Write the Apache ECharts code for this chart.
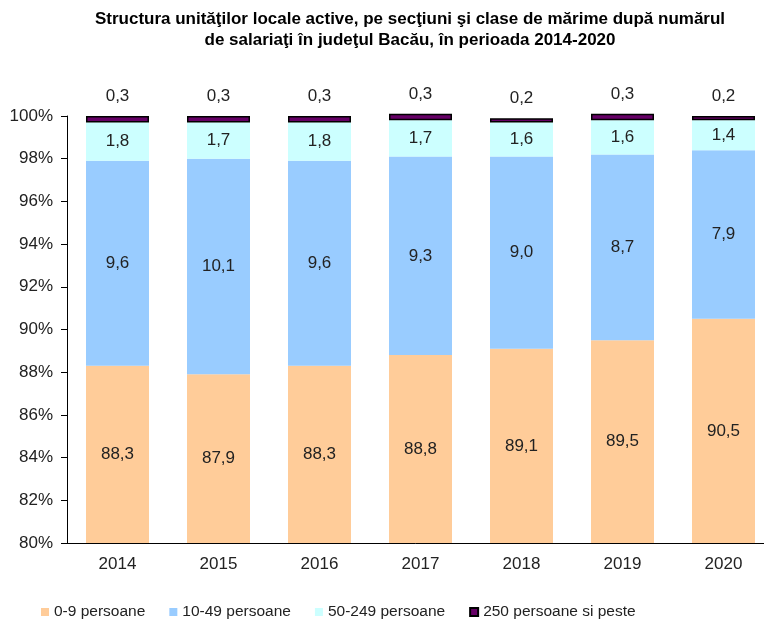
<!DOCTYPE html>
<html>
<head>
<meta charset="utf-8">
<script src="https://cdn.jsdelivr.net/npm/echarts@6/dist/echarts.min.js"></script>
<style>
  html, body { margin: 0; padding: 0; background: #fff; }
  #chart { width: 764px; height: 619px; }
</style>
</head>
<body>
<div id="chart"></div>
<script>
// ani
const years = ["2014", "2015", "2016", "2017", "2018", "2019", "2020"];
const s0_9 = [88.3, 87.9, 88.3, 88.8, 89.1, 89.5, 90.5];
const s10_49 = [9.6, 10.1, 9.6, 9.3, 9.0, 8.7, 7.9];
const s50_249 = [1.8, 1.7, 1.8, 1.7, 1.6, 1.6, 1.4];
const s250 = [0.3, 0.3, 0.3, 0.3, 0.2, 0.3, 0.2];

const font = "'Liberation Sans', Arial, sans-serif";
const fmt = (p) => p.value.toFixed(1).replace(".", ",");

const chart = echarts.init(document.getElementById("chart"));

// eticheta din interiorul barei
const innerLabel = {
  show: true,
  position: "inside",
  formatter: fmt,
  color: "#222",
  fontSize: 17,
  fontFamily: font,
};

chart.setOption({
  animation: false,
  title: {
    text: "Structura unităţilor locale active, pe secţiuni şi clase de mărime după numărul\nde salariaţi în judeţul Bacău, în perioada 2014-2020",
    left: 410,
    textAlign: "center",
    top: 9,
    padding: 0,
    textStyle: {
      fontFamily: font,
      fontSize: 17,
      fontWeight: "bold",
      color: "#000",
      lineHeight: 21,
    },
  },
  grid: {
    left: 67,
    width: 707,
    top: 116,
    bottom: 76,
    outerBoundsMode: "none",
  },
  legend: {
    left: 41,
    top: 604,
    padding: 0,
    icon: "rect",
    itemWidth: 8,
    itemHeight: 8,
    itemGap: 24,
    textStyle: { fontFamily: font, fontSize: 15.5, color: "#222" },
  },
  xAxis: {
    type: "category",
    data: years,
    axisLine: { lineStyle: { color: "#000" } },
    axisTick: { length: 6, lineStyle: { color: "#000" } },
    axisLabel: {
      color: "#222",
      fontSize: 17,
      margin: 13,
      fontFamily: font,
    },
  },
  yAxis: {
    type: "value",
    min: 80,
    max: 100,
    interval: 2,
    splitLine: { show: false },
    axisLine: { show: true, lineStyle: { color: "#000" } },
    axisTick: { show: true, length: 6, lineStyle: { color: "#000" } },
    axisLabel: {
      formatter: "{value}%",
      color: "#222",
      fontSize: 17,
      margin: 14,
      fontFamily: font,
    },
  },
  series: [
    {
      name: "0-9 persoane",
      type: "bar",
      stack: "total",
      barWidth: 63,
      data: s0_9,
      itemStyle: { color: "#FFCC99" },
      label: innerLabel,
    },
    {
      name: "10-49 persoane",
      type: "bar",
      stack: "total",
      data: s10_49,
      itemStyle: { color: "#99CCFF" },
      label: innerLabel,
    },
    {
      name: "50-249 persoane",
      type: "bar",
      stack: "total",
      data: s50_249,
      itemStyle: { color: "#CCFFFF" },
      label: innerLabel,
    },
    {
      name: "250 persoane si peste",
      type: "bar",
      stack: "total",
      data: s250,
      clip: false,
      itemStyle: { color: "#660066", borderColor: "#000", borderWidth: 1.5 },
      label: {
        show: true,
        position: "top",
        distance: 11,
        formatter: fmt,
        color: "#222",
        fontSize: 17,
        fontFamily: font,
      },
    },
  ],
});
</script>
</body>
</html>
